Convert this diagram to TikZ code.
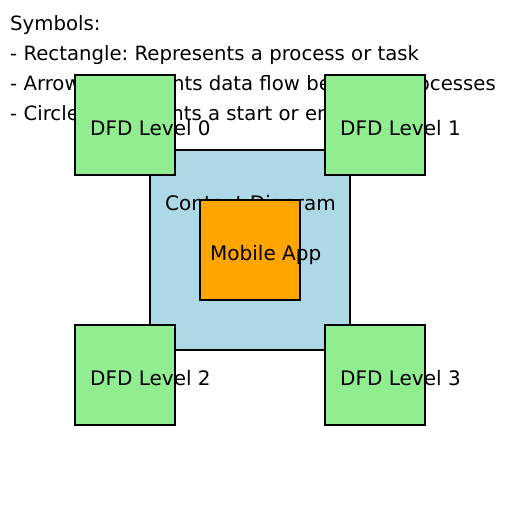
\documentclass[tikz,border=0pt]{standalone}
\usepackage{fontspec}
\setmainfont{DejaVu Sans}
\frenchspacing
\definecolor{ctxblue}{HTML}{ADD8E6}
\definecolor{apporange}{HTML}{FFA500}
\definecolor{dfdgreen}{HTML}{90EE90}
\tikzset{
  box/.style={draw, line width=1.5pt, minimum size=100pt, inner sep=0pt, outer sep=0pt},
  lbl/.style={anchor=base west, inner sep=0pt, font=\fontsize{20}{24}\selectfont},
  legend/.style={lbl, font=\fontsize{19.7}{24}\selectfont},
}

\begin{document}
\begin{tikzpicture}[x=1pt,y=-1pt]
\useasboundingbox (0,0) rectangle (512,512);
% legend
\node[legend] (symbols) at (10,30) {Symbols:};
\node[legend] (symrect) at (10,60) {- Rectangle: Represents a process or task};
\node[legend] (symarrow) at (10,90) {- Arrow: Represents data flow between processes};
\node[legend] (symcircle) at (10,120) {- Circle: Represents a start or end point};

% context diagram
\node[box, fill=ctxblue, minimum size=200pt] (ctx) at (250,250) {};
\node[lbl] (ctxtext) at (165,210) {Context Diagram};
\node[box, fill=apporange] (app) at (250,250) {};
\node[lbl] (apptext) at (210,260) {Mobile App};

% levels
\node[box, fill=dfdgreen] (lvl0) at (125,125) {};
\node[lbl] (lvl0text) at (90,135) {DFD Level 0};
\node[box, fill=dfdgreen] (lvl1) at (375,125) {};
\node[lbl] (lvl1text) at (340,135) {DFD Level 1};
\node[box, fill=dfdgreen] (lvl2) at (125,375) {};
\node[lbl] (lvl2text) at (90,385) {DFD Level 2};
\node[box, fill=dfdgreen] (lvl3) at (375,375) {};
\node[lbl] (lvl3text) at (340,385) {DFD Level 3};
\end{tikzpicture}
\end{document}
